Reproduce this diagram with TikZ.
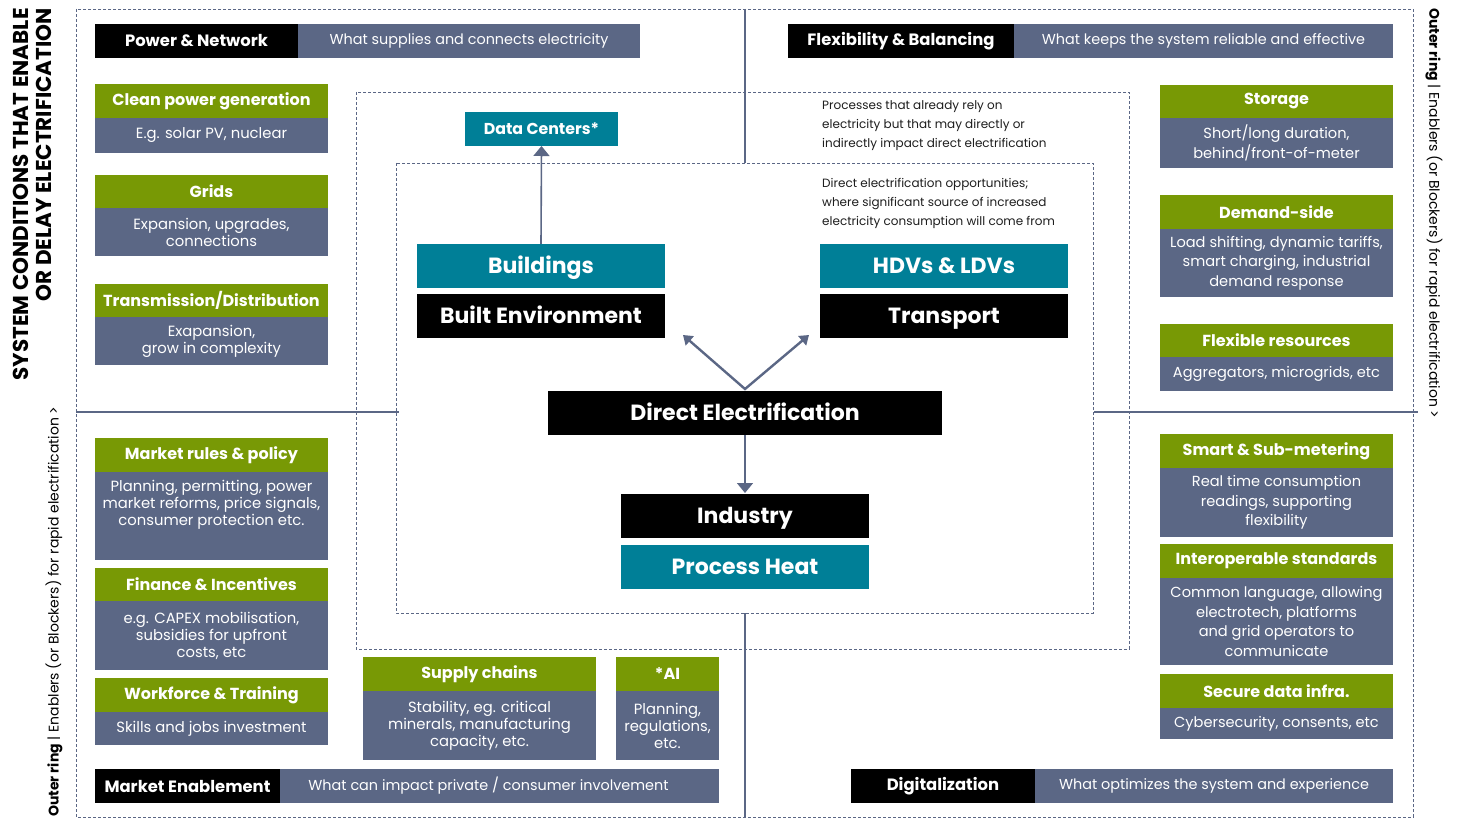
\documentclass[tikz,border=0pt]{standalone}
\usepackage{fontspec}
\setmainfont{Poppins}
\usetikzlibrary{arrows.meta}
\definecolor{leaf}{RGB}{120,153,5}
\definecolor{slate}{RGB}{91,103,133}
\definecolor{sea}{RGB}{0,127,151}
\definecolor{ink}{RGB}{30,30,30}
\newcommand\fs[2]{\fontsize{#1}{#2}\selectfont}
% \pbox{name}{x1}{y1}{x2}{y2}{style}{text}
\newcommand\pbox[7]{\node[#6, minimum width={#4-#2}, minimum height={#5-#3}] (#1) at ({(#2+#4)/2},{(#3+#5)/2}) {#7};}
\tikzset{
  x=1pt, y=-1pt,
  base/.style={inner sep=0pt, outer sep=0pt, align=center, text=white},
  ttl/.style={base, fill=leaf, font=\bfseries\fs{16}{17}},
  body/.style={base, fill=slate, font=\fs{14.8}{17}},
  rbody/.style={base, fill=slate, font=\fs{14.6}{19.5}},
  hdark/.style={base, fill=black, font=\bfseries\fs{16.4}{17}},
  hlight/.style={base, fill=slate, font=\fs{14.4}{17}},
  bigdark/.style={base, fill=black, font=\bfseries\fs{22}{24}, text height=15.4pt, text depth=0pt},
  bigsea/.style={base, fill=sea, font=\bfseries\fs{22}{24}, text height=15.4pt, text depth=0pt},
  ring/.style={draw=slate, line width=0.8pt, dash pattern=on 3pt off 2pt},
  axis/.style={draw=slate, line width=1.3pt},
  arr/.style={draw=slate, line width=1.6pt, -{Triangle[width=16pt,length=10pt]}},
  varr/.style={draw=slate, line width=2.4pt, {Triangle[width=12pt,length=9pt]}-{Triangle[width=12pt,length=9pt]}},
  note/.style={inner sep=0pt, align=left, text=ink, font=\fs{12}{19}, anchor=north west},
}
\begin{document}
\begin{tikzpicture}
\path[use as bounding box, fill=white] (0,0) rectangle (1460,818);

% dashed rings
\draw[ring] (76,9) rectangle (1413,817);
\draw[ring] (356,92) rectangle (1129,649);
\draw[ring] (396,163) rectangle (1093,613);

% quadrant axes
\coordinate (axl1) at (76,412);   \coordinate (axl2) at (399,412);
\coordinate (axr1) at (1094,412); \coordinate (axr2) at (1418,412);
\coordinate (axt1) at (745,9);    \coordinate (axt2) at (745,163);
\coordinate (axb1) at (745,613);  \coordinate (axb2) at (745,817);
\draw[axis] (axl1) -- (axl2);
\draw[axis] (axr1) -- (axr2);
\draw[axis] (axt1) -- (axt2);
\draw[axis] (axb1) -- (axb2);

% quadrant headers
\pbox{pn}{95}{24}{298}{58}{hdark}{Power \& Network}
\pbox{pnd}{298}{24}{640}{58}{hlight}{What supplies and connects electricity}
\pbox{fb}{788}{24}{1014}{58}{hdark}{Flexibility \& Balancing}
\pbox{fbd}{1014}{24}{1393}{58}{hlight}{What keeps the system reliable and effective}
\pbox{me}{95}{769}{280}{803}{hdark}{Market Enablement}
\pbox{med}{280}{769}{719}{803}{hlight}{What can impact private / consumer involvement\hspace{22pt}}
\pbox{dg}{851}{769}{1035}{803}{hdark}{Digitalization}
\pbox{dgd}{1035}{769}{1393}{803}{hlight}{What optimizes the system and experience}

% left column
\pbox{cpg}{95}{84}{328}{118}{ttl}{Clean power generation}
\pbox{cpgb}{95}{118}{328}{153}{body}{E.g. solar PV, nuclear}
\pbox{grd}{95}{175}{328}{208}{ttl}{Grids}
\pbox{grdb}{95}{208}{328}{256}{body}{Expansion, upgrades,\\connections}
\pbox{trd}{95}{284}{328}{317}{ttl}{Transmission/Distribution}
\pbox{trdb}{95}{317}{328}{365}{body}{Exapansion,\\grow in complexity}
\pbox{mrp}{95}{438}{328}{472}{ttl}{Market rules \& policy}
\pbox{mrpb}{95}{472}{328}{560}{body}{}
\node[base, font=\fs{14.8}{17}] (mrpt) at (211.5,505) {Planning, permitting, power\\market reforms, price signals,\\consumer protection etc.};
\pbox{fin}{95}{568}{328}{601}{ttl}{Finance \& Incentives}
\pbox{finb}{95}{601}{328}{670}{body}{e.g. CAPEX mobilisation,\\subsidies for upfront\\costs, etc}
\pbox{wft}{95}{678}{328}{712}{ttl}{Workforce \& Training}
\pbox{wftb}{95}{712}{328}{745}{body}{Skills and jobs investment}

% right column
\pbox{sto}{1160}{85}{1393}{118}{ttl}{Storage}
\pbox{stob}{1160}{118}{1393}{168}{rbody}{Short/long duration,\\behind/front-of-meter}
\pbox{dem}{1160}{195}{1393}{229}{ttl}{Demand-side}
\pbox{demb}{1160}{229}{1393}{297}{rbody}{Load shifting, dynamic tariffs,\\smart charging, industrial\\demand response}
\pbox{flx}{1160}{324}{1393}{357}{ttl}{Flexible resources}
\pbox{flxb}{1160}{357}{1393}{391}{rbody}{Aggregators, microgrids, etc}
\pbox{smt}{1160}{434}{1393}{468}{ttl}{Smart \& Sub-metering}
\pbox{smtb}{1160}{468}{1393}{537}{rbody}{Real time consumption\\readings, supporting\\flexibility}
\pbox{iop}{1160}{544}{1393}{578}{ttl}{Interoperable standards}
\pbox{iopb}{1160}{578}{1393}{665}{rbody}{Common language, allowing\\electrotech, platforms\\and grid operators to\\communicate}
\pbox{sec}{1160}{674}{1393}{708}{ttl}{Secure data infra.}
\pbox{secb}{1160}{708}{1393}{739}{rbody}{Cybersecurity, consents, etc}

% bottom middle
\pbox{sup}{363}{657}{596}{691}{ttl}{Supply chains}
\pbox{supb}{363}{691}{596}{760}{body}{Stability, eg. critical\\minerals, manufacturing\\capacity, etc.}
\pbox{ai}{616}{657}{719}{691}{ttl}{*AI}
\pbox{aib}{616}{691}{719}{760}{body}{Planning,\\regulations,\\etc.}

% centre
\pbox{dc}{465}{112}{618}{146}{base, fill=sea, font=\bfseries\fs{15.8}{17}}{Data Centers*}
\pbox{bld}{417}{244}{665}{288}{bigsea}{Buildings}
\pbox{be}{417}{294}{665}{338}{bigdark}{Built Environment}
\pbox{hdv}{820}{244}{1068}{288}{bigsea}{HDVs \& LDVs}
\pbox{trn}{820}{294}{1068}{338}{bigdark}{Transport}
\pbox{de}{548}{391}{942}{435}{bigdark}{Direct Electrification}
\pbox{ind}{621}{494}{869}{538}{bigdark}{Industry}
\pbox{ph}{621}{545}{869}{589}{bigsea}{Process Heat}

\node[note] (n1) at (822,100) {Processes that already rely on\\electricity but that may directly or\\indirectly impact direct electrification};
\node[note] (n2) at (822,178) {Direct electrification opportunities;\\where significant source of increased\\electricity consumption will come from};

% connectors
\draw[arr] (bld.north) -- (dc.south);
\coordinate (vtx) at (745,389);
\coordinate (vl) at (683,335);
\coordinate (vr) at (809,335);
\draw[varr] (vl) -- (vtx) -- (vr);
\draw[arr] (de.south) -- ([yshift=1pt]ind.north);

% side captions
\node[inner sep=0pt, rotate=90, anchor=east, align=right, font=\bfseries\fs{21.5}{23}] (sc) at (32,8) {SYSTEM CONDITIONS THAT ENABLE\\OR DELAY ELECTRIFICATION};
\node[inner sep=0pt, rotate=90, anchor=west, font=\fs{14}{16}] (orl) at (54,817) {\textbf{Outer ring} | Enablers (or Blockers) for rapid electrification >};
\node[inner sep=0pt, rotate=-90, anchor=west, font=\fs{14}{16}] (orr) at (1434,8) {\textbf{Outer ring} | Enablers (or Blockers) for rapid electrification >};
\end{tikzpicture}
\end{document}
